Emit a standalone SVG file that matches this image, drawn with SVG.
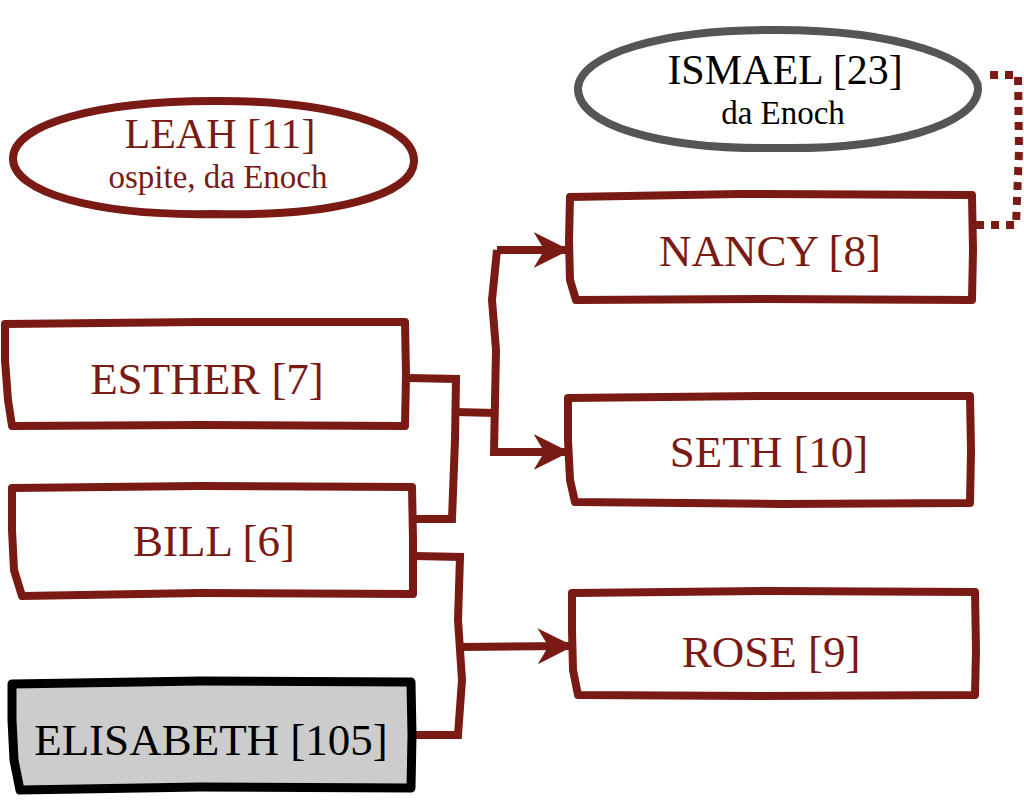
<svg xmlns="http://www.w3.org/2000/svg" width="1024" height="800" viewBox="0 0 1024 800">
<style>
.box{fill:#fff;stroke:#7a1a14;stroke-width:8;stroke-linejoin:round}
.ell{fill:#fff;stroke:#7a1a14;stroke-width:8}
.ellg{fill:#fff;stroke:#555;stroke-width:8}
.boxk{fill:#cccccc;stroke:#000;stroke-width:9;stroke-linejoin:round}
.t{font-family:"Liberation Serif",serif;font-size:45px;fill:#7a1a14;text-anchor:middle}
.e{font-family:"Liberation Serif",serif;font-size:42px;fill:#7a1a14;text-anchor:middle}
.s{font-family:"Liberation Serif",serif;font-size:33px;fill:#7a1a14;text-anchor:middle}
.k{fill:#000}
.c{fill:none;stroke:#7a1a14;stroke-width:8;stroke-linejoin:miter}
.d{fill:none;stroke:#7a1a14;stroke-width:8;stroke-dasharray:8 7}
</style>
<defs>
<marker id="ah" viewBox="0 0 10 10" refX="9" refY="5" markerWidth="4.5" markerHeight="4.5" orient="auto" markerUnits="strokeWidth">
<path d="M0,0 L10,5 L0,10 L3,5 Z" fill="#7a1a14"/>
</marker>
</defs>
<g id="connectors">
<path class="c" d="M408,378 L456,379 L455,440 L452,519 L415,519"/>
<path class="c" d="M455,412 L496,413"/>
<path class="c" d="M497,250 L492,300 L496,350 L494,452 L566,452" marker-end="url(#ah)"/>
<path class="c" d="M497,250 L566,250" marker-end="url(#ah)"/>
<path class="c" d="M415,556 L460,557 L458,620 L462,680 L458,735 L413,735"/>
<path class="c" d="M460,647 L570,646" marker-end="url(#ah)"/>
<path class="d" d="M990,75 L1018,75 L1019,150 L1016,225 L975,225"/>
</g>
<g id="leah">
<path class="ell" d="M213,101 C330,100 416,125 414,162 C412,196 330,217 213,214 C95,216 12,192 13,158 C14,124 98,101 213,101 Z"/>
<text class="e" x="220" y="148">LEAH [11]</text>
<text class="s" x="218" y="188">ospite, da Enoch</text>
</g>
<g id="ismael">
<path class="ellg" d="M777,30 C900,30 980,60 978,90 C975,125 890,150 777,148 C660,150 577,125 578,88 C580,55 660,29 777,30 Z"/>
<text class="e k" x="785" y="84">ISMAEL [23]</text>
<text class="s k" x="783" y="124">da Enoch</text>
</g>
<g id="nancy">
<path class="box" d="M570,197 L740,194 L972,195 L973,250 L972,300 L760,299 L576,300 L570,280 L569,240 Z"/>
<text class="t" x="770" y="266">NANCY [8]</text>
</g>
<g id="seth">
<path class="box" d="M568,398 L760,396 L970,396 L971,450 L970,503 L780,504 L575,502 L570,480 L568,440 Z"/>
<text class="t" x="769" y="467">SETH [10]</text>
</g>
<g id="rose">
<path class="box" d="M572,593 L770,591 L975,592 L976,650 L975,695 L760,696 L578,695 L573,670 L572,630 Z"/>
<text class="t" x="771" y="667">ROSE [9]</text>
</g>
<g id="esther">
<path class="box" d="M5,324 L200,322 L405,322 L406,375 L405,426 L200,425 L12,426 L8,400 L5,360 Z"/>
<text class="t" x="207" y="394">ESTHER [7]</text>
</g>
<g id="bill">
<path class="box" d="M12,488 L200,486 L412,487 L413,540 L413,594 L200,593 L22,596 L14,570 L12,530 Z"/>
<text class="t" x="214" y="556">BILL [6]</text>
</g>
<g id="elisabeth">
<path class="boxk" d="M12,684 L200,681 L411,682 L412,735 L411,788 L200,787 L20,790 L14,760 L12,720 Z"/>
<text class="t k" x="211" y="755">ELISABETH [105]</text>
</g>
</svg>
